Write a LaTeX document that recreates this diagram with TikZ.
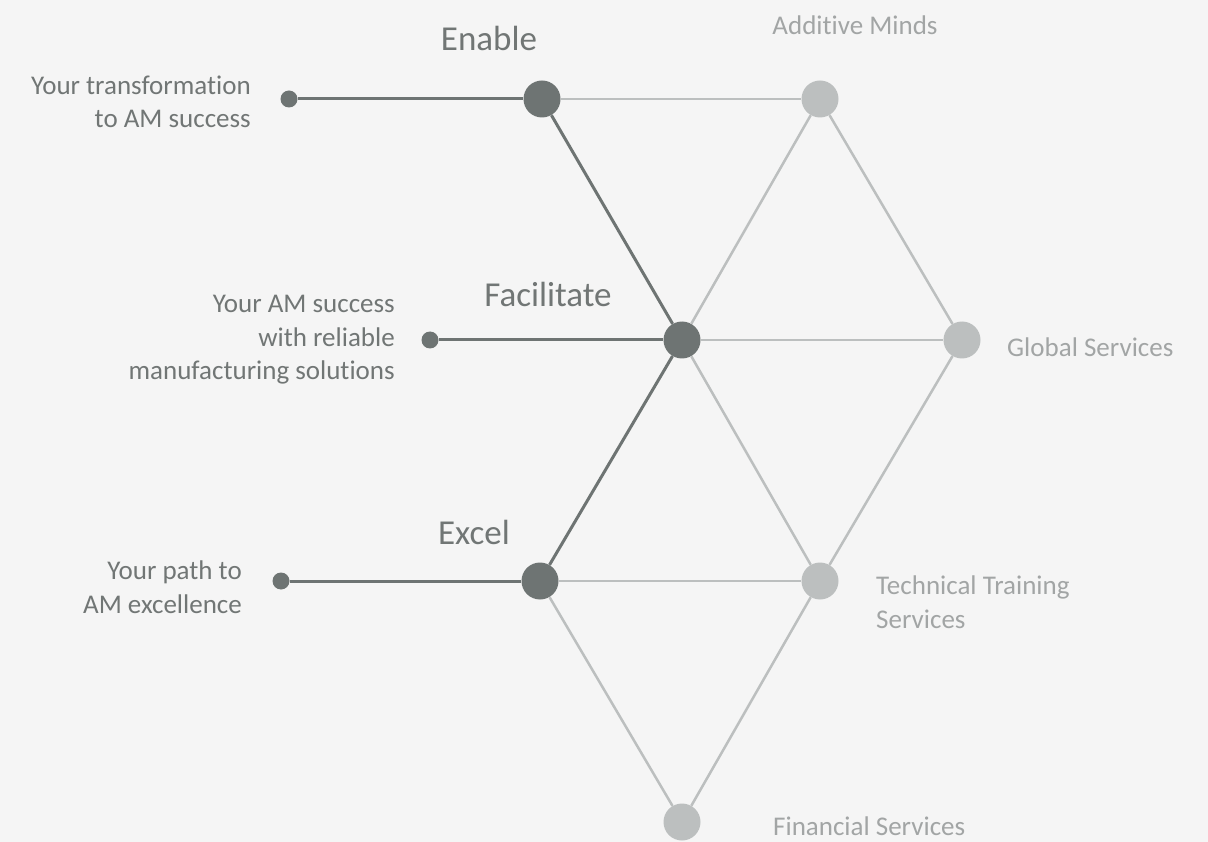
\documentclass[tikz,border=0pt]{standalone}
\usepackage{fontspec}
\setmainfont{Carlito}[Ligatures=CommonOff]
\usetikzlibrary{calc}

\definecolor{bgcol}{HTML}{F5F5F5}
\definecolor{darkcol}{HTML}{6E7473}
\definecolor{lightcol}{HTML}{BCBFBF}
\definecolor{textdark}{HTML}{717675}
\definecolor{textlight}{HTML}{A2A5A5}

\tikzset{
  bigdot/.style={circle,fill=#1,minimum size=37pt,inner sep=0pt},
  smalldot/.style={circle,fill=darkcol,minimum size=17pt,inner sep=0pt},
  darkline/.style={draw=darkcol,line width=3pt},
  lightline/.style={draw=lightcol,line width=2.5pt},
  headtext/.style={text=textdark,font=\fontsize{35}{40}\selectfont,inner sep=0pt},
  lefttext/.style={text=textdark,font=\fontsize{27}{33.5}\selectfont,align=right,inner sep=0pt},
  righttext/.style={text=textlight,font=\fontsize{27}{33.5}\selectfont,align=left,inner sep=0pt}
}

\begin{document}
\begin{tikzpicture}[x=1pt,y=-1pt]

\fill[bgcol] (0,0) rectangle (1208,842);
\useasboundingbox (0,0) rectangle (1208,842);

% the hexagon of dots
\node[bigdot=darkcol] (Enable) at (542,99) {};
\node[bigdot=darkcol] (Facil) at (682,340) {};
\node[bigdot=darkcol] (Excel) at (540,581) {};
\node[bigdot=lightcol] (Minds) at (820,99) {};
\node[bigdot=lightcol] (Global) at (962,340) {};
\node[bigdot=lightcol] (Training) at (820,581) {};
\node[bigdot=lightcol] (Finance) at (682,822) {};

\node[smalldot] (S1) at (289,99) {};
\node[smalldot] (S2) at (430,340) {};
\node[smalldot] (S3) at (281,581) {};

% light connectors
\draw[lightline] (Enable)--(Minds);
\draw[lightline] (Minds)--(Facil);
\draw[lightline] (Minds)--(Global);
\draw[lightline] (Facil)--(Global);
\draw[lightline] (Facil)--(Training);
\draw[lightline] (Global)--(Training);
\draw[lightline] (Excel)--(Training);
\draw[lightline] (Excel)--(Finance);
\draw[lightline] (Training)--(Finance);

% dark connectors
\draw[darkline] (S1)--(Enable);
\draw[darkline] (S2)--(Facil);
\draw[darkline] (S3)--(Excel);
\draw[darkline] (Enable)--(Facil);
\draw[darkline] (Facil)--(Excel);

% labels
\node[headtext] (EnableL) at (489,38) {Enable};
\node[headtext] (FacilL) at (548,294) {Facilitate};
\node[headtext] (ExcelL) at (474,532) {Excel};

\node[lefttext,anchor=east] (T1) at (251,102) {Your transformation\\to AM success};
\node[lefttext,anchor=east] (T2) at (395,340) {Your AM success\\with reliable\\manufacturing solutions};
\node[lefttext,anchor=east] (T3) at (242,587) {Your path to\\AM excellence};

\node[righttext] (MindsL) at (855,25) {Additive Minds};
\node[righttext,anchor=west] (GlobalL) at (1007,347) {Global Services};
\node[righttext,anchor=west] (TrainingL) at (876,602) {Technical Training\\Services};
\node[righttext,anchor=west] (FinanceL) at (773,826) {Financial Services};

\end{tikzpicture}
\end{document}
